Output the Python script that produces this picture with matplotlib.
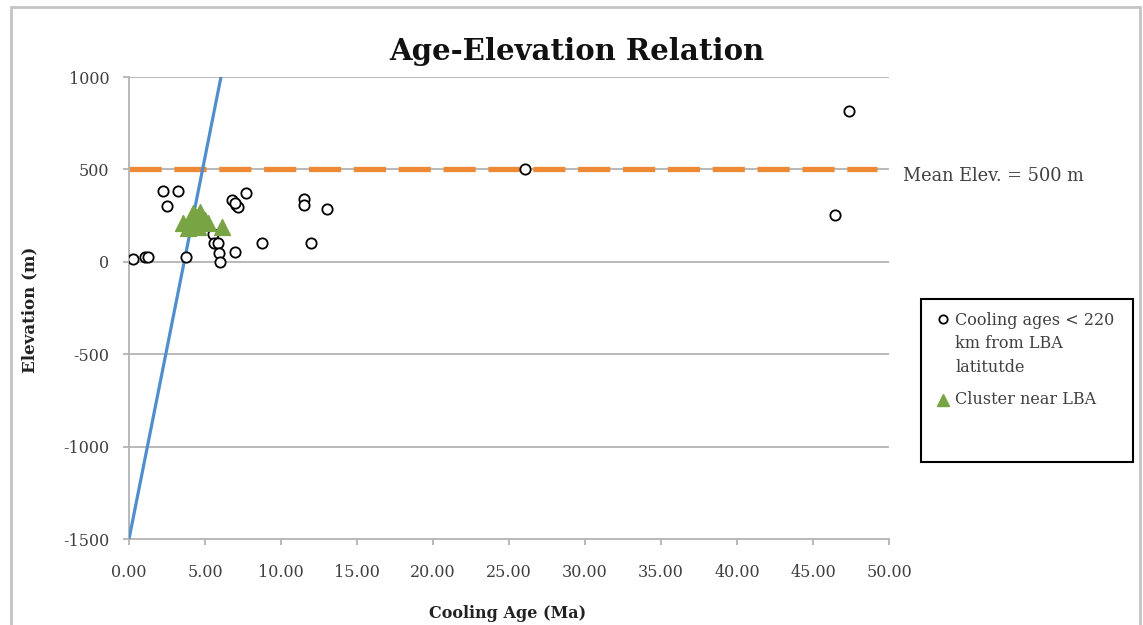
import matplotlib
matplotlib.use("Agg")
import matplotlib.pyplot as plt
from matplotlib.patches import Rectangle
from matplotlib.lines import Line2D

plt.rcParams['font.family'] = ['DejaVu Serif']
plt.rcParams['axes.unicode_minus'] = False

# cooling ages < 220 km from LBA latitude
age = [0.24, 1.05, 1.27, 2.22, 3.24, 2.48, 3.75, 5.55, 5.61, 5.88, 5.94, 5.99,
       6.97, 6.78, 7.04, 7.17, 6.95, 7.70, 8.77, 11.53, 11.53, 11.95, 13.0,
       26.05, 47.37, 46.45]
elev = [14, 28, 28, 385, 385, 304, 24, 150, 100, 104, 50, 0,
        55, 334, 307, 296, 318, 375, 103, 339, 308, 103, 284,
        502, 816, 253]

# cluster near LBA
clus_age = [3.57, 4.23, 4.68, 5.0, 3.9, 4.57, 5.23, 4.4, 4.1, 6.12]
clus_elev = [208, 262, 271, 226, 181, 190, 208, 240, 225, 190]

# trend line and mean elevation
trend_x = [0.0, 6.05]
trend_y = [-1500, 1000]
mean_elev = 500

xticks = [0, 5, 10, 15, 20, 25, 30, 35, 40, 45, 50]
yticks = [-1500, -1000, -500, 0, 500, 1000]

txt = '#404040'
grid = '#B3B3B3'
green = '#79A444'

fig = plt.figure(figsize=(11.43, 6.25), dpi=100)
W, H = 1143, 625
ax = fig.add_axes([129 / W, 1 - 539 / H, (889 - 129) / W, (539 - 77) / H])

# outer chart frame
fig.patches.append(Rectangle((11 / W, -0.05), (1140 - 11) / W, 1 - 7 / H + 0.05,
                             transform=fig.transFigure, fill=False,
                             edgecolor='#C4C4C4', lw=2))

for y in yticks[1:]:
    ax.axhline(y, color=grid, lw=1.3, zorder=1)

ax.axhline(mean_elev, xmin=0, xmax=(877 - 129) / (889 - 129), color='#EE8A35',
           lw=3.8, dashes=(6.1, 2.4), zorder=2)
ax.plot(trend_x, trend_y, color='#4F8FCB', lw=2.3, zorder=3)
ax.scatter(age, elev, s=55, facecolors='white', edgecolors='black',
           linewidths=1.3, zorder=4)
ax.scatter(clus_age, clus_elev, s=130, marker='^', color=green, zorder=5)

ax.set_xlim(0, 50)
ax.set_ylim(-1500, 1000)
ax.set_xticks(xticks)
ax.set_xticklabels(['%.2f' % v for v in xticks])
ax.set_yticks(yticks)
ax.tick_params(axis='both', colors=grid, labelcolor=txt, labelsize=11.5,
               length=4.3, width=1.3)
ax.tick_params(axis='x', pad=14)
ax.tick_params(axis='y', pad=10)
for s in ['top', 'right']:
    ax.spines[s].set_visible(False)
for s in ['left', 'bottom']:
    ax.spines[s].set_color(grid)
    ax.spines[s].set_linewidth(1.3)

fig.text(577 / W, 1 - 52 / H, 'Age-Elevation Relation', ha='center',
         va='center', fontsize=21, fontweight='bold', color='#111111')
fig.text(508 / W, 1 - 613 / H, 'Cooling Age (Ma)', ha='center', va='center',
         fontsize=11.5, fontweight='bold', color='#222222')
fig.text(30 / W, 1 - 310 / H, 'Elevation (m)', ha='center', va='center',
         rotation=90, fontsize=12, fontweight='bold', color='#222222')
fig.text(903 / W, 1 - 176 / H, 'Mean Elev. = 500 m', ha='left', va='center',
         fontsize=12.8, color=txt)

# legend box drawn by hand so the marker sits on the first text line
fig.patches.append(Rectangle((921 / W, 1 - 462 / H), (1133 - 921) / W, (462 - 299) / H,
                             transform=fig.transFigure, fill=False,
                             edgecolor='black', lw=1.5))
fig.lines.append(Line2D([943 / W], [1 - 319 / H], transform=fig.transFigure,
                        ls='none', marker='o', mfc='white', mec='black', mew=1.3, ms=6))
fig.lines.append(Line2D([943 / W], [1 - 400 / H], transform=fig.transFigure,
                        ls='none', marker='^', color=green, ms=8))
fig.text(955 / W, 1 - 312 / H, 'Cooling ages < 220\nkm from LBA\nlatitutde',
         ha='left', va='top', fontsize=11.5, color=txt, linespacing=1.5)
fig.text(955 / W, 1 - 400 / H, 'Cluster near LBA', ha='left', va='center',
         fontsize=11.5, color=txt)

fig.savefig('out.png', dpi=100)
